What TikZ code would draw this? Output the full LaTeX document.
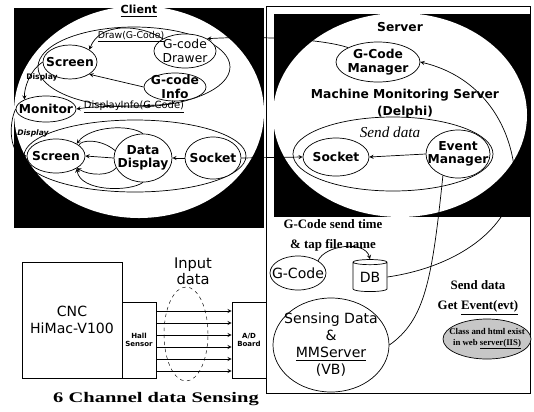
\documentclass[tikz,border=0pt]{standalone}
\usepackage{fontspec}
\setmainfont{DejaVu Sans}
\newfontfamily\tnr{Liberation Serif}
\newfontfamily\tnrwide{Liberation Serif}[FakeStretch=1.4]
\usetikzlibrary{shapes.geometric,arrows}

\begin{document}
\begin{tikzpicture}[x=0.03cm,y=-0.03cm]

% Define block styles
\tikzstyle{blob} = [ellipse,draw=black,fill=white,line width=0.6pt,inner sep=-10pt,align=center]
\tikzstyle{grp} = [ellipse,draw=black,line width=0.6pt]
\tikzstyle{box} = [rectangle,draw=black,fill=white,line width=0.6pt,inner sep=0pt,align=center]
\tikzstyle{arrow} = [line width=0.6pt,->,>=stealth]
\tikzstyle{wire} = [line width=0.6pt]
\tikzstyle{bold} = [font=\fontsize{10.5}{11.5}\selectfont\bfseries,align=center]
\tikzstyle{plain} = [font=\fontsize{10.5}{11.5}\selectfont,align=center]
\tikzstyle{tag} = [font=\fontsize{8}{9}\selectfont,inner sep=1pt]
\tikzstyle{serif} = [font=\tnr\fontsize{11}{17}\selectfont\bfseries,align=center]

\useasboundingbox (0,0) rectangle (534,411);

% Client panel
\fill[black] (14,8) rectangle (264,228);
\node (client) at (139,112) [ellipse,fill=white,minimum width=7.5cm,minimum height=6.36cm] {};
\node (clienttitle) at (139,11) [font=\fontsize{9.5}{10}\selectfont\bfseries] {\underline{Client}};

\node (topgrp) at (134,67) [grp,minimum width=5.76cm,minimum height=2.4cm] {};
\node (botgrp) at (135,156) [grp,minimum width=6.66cm,minimum height=2.16cm] {};

\node (scrtop) at (70,62) [blob,bold,minimum width=1.62cm,minimum height=1.02cm] {Screen};
\node (drawer) at (185,51) [blob,plain,minimum width=1.86cm,minimum height=1.02cm] {G-code\\Drawer};
\node (info) at (175,87) [blob,bold,minimum width=1.86cm,minimum height=0.84cm] {G-code\\Info};
\node (monitor) at (46,109) [blob,bold,minimum width=1.8cm,minimum height=0.78cm] {Monitor};
\node (scrbot) at (56,156) [blob,bold,minimum width=1.74cm,minimum height=1.02cm] {Screen};
\node (datadisp) at (143,158) [blob,bold,minimum width=1.74cm,minimum height=1.44cm] {Data\\Display};
\node (csock) at (213,158) [blob,bold,minimum width=1.68cm,minimum height=1.26cm] {Socket};

\node (drawlbl) at (131,37) [tag] {\underline{Draw(G-Code)}};
\node (showtop) at (42,77) [tag,font=\fontsize{6.5}{7}\selectfont\bfseries] {Display};
\node (infolbl) at (134,107) [tag,font=\fontsize{8.5}{9}\selectfont] {\underline{DisplayInfo(G-Code)}};
\node (showbot) at (33,133) [tag,font=\fontsize{6.5}{7}\selectfont\bfseries\itshape] {Display};

% Client arrows
\draw [arrow] (drawer.north west) .. controls (140,24) and (100,22) .. (scrtop.north east);
\draw [arrow] (info.west) -- (scrtop.south east);
\draw [arrow] (scrtop.west) .. controls (30,70) and (24,88) .. (monitor.north west);
\draw [arrow] (info.south) .. controls (170,108) and (110,104) .. (monitor.east);
\draw [arrow] (monitor.west) .. controls (8,125) and (10,155) .. (scrbot.west);
\draw [arrow] (csock.west) -- (datadisp.east);
\draw [arrow] (datadisp.west) -- (scrbot.east);
\draw [arrow] (datadisp.north) .. controls (130,124) and (90,126) .. (scrbot.north east);
\draw [wire] (scrbot.25) .. controls (80,140) and (100,138) .. (datadisp.165);
\draw [arrow] (datadisp.200) .. controls (110,176) and (90,176) .. (scrbot.-30);
\draw [arrow] (datadisp.south) .. controls (130,192) and (80,192) .. (scrbot.south east);

% Server panel
\draw [wire] (266,6) rectangle (530,393);
\fill[black] (274,14) rectangle (530,217);
\node (server) at (400,115) [ellipse,fill=white,minimum width=7.62cm,minimum height=6.12cm] {};
\node (servertitle) at (400,27) [bold] {Server};

\node (gcm) at (378,62) [blob,bold,minimum width=2.52cm,minimum height=1.2cm] {G-Code\\Manager};
\node (mms) at (405,104) [bold,font=\fontsize{10.5}{14.5}\selectfont\bfseries] {Machine Monitoring Server\\(Delphi)};
\node (sendloop) at (393,154) [grp,minimum width=6cm,minimum height=2.22cm] {};
\node (senddata) at (390,132) [font=\tnr\fontsize{13}{14}\selectfont\itshape] {Send data};
\node (srvsock) at (336,157) [blob,bold,minimum width=1.98cm,minimum height=1.14cm] {Socket};
\node (evtmgr) at (458,154) [blob,bold,minimum width=1.92cm,minimum height=1.44cm] {Event\\Manager};

\draw [arrow] (evtmgr.west) -- (srvsock.east);
\draw [arrow] (csock.east) -- (srvsock.west);
\draw [arrow] (gcm.north west) .. controls (320,38) and (250,36) .. (drawer.north east);

% Files and sensing
\node (sendtime) at (333,235) [serif] {G-Code send time\\\& tap file name};
\node (gcodefile) at (298,273) [blob,font=\fontsize{12}{13}\selectfont,minimum width=1.68cm,minimum height=1.02cm] {G-Code};
\node (db) at (370,277) [cylinder,shape border rotate=90,aspect=0.25,draw,fill=white,line width=0.6pt,inner sep=0pt,minimum width=1.02cm,minimum height=0.96cm,font=\fontsize{12}{13}\selectfont] {DB};
\node (evtlbl) at (478,298) [serif] {Send data\\Get \underline{Event(evt)}};
\node (web) at (487,339) [blob,fill=black!22,font=\tnr\fontsize{7.5}{9}\selectfont\bfseries,minimum width=2.64cm,minimum height=1.2cm] {Class and html exist\\in web \underline{server(IIS)}};
\node (sensing) at (331,345) [blob,font=\fontsize{12}{14.5}\selectfont,minimum width=3.48cm,minimum height=2.82cm] {Sensing Data\\\&\\\underline{MMServer}\\(VB)};

\draw [arrow] (gcodefile.north east) .. controls (325,245) and (365,240) .. (db.north);
\draw [arrow] (db.east) .. controls (470,265) and (525,215) .. (513,160) .. controls (505,115) and (475,75) .. (gcm.east);
\draw [wire] (evtmgr.-125) .. controls (432,280) and (425,320) .. (sensing.east);

% Machine side
\node (cnc) at (72,320) [box,minimum width=3cm,minimum height=3.48cm,font=\fontsize{12}{14}\selectfont] {CNC\\HiMac-V100};
\node (hall) at (139,340) [box,minimum width=1.02cm,minimum height=2.28cm,font=\fontsize{6}{7}\selectfont\bfseries] {Hall\\Sensor};
\node (adboard) at (249,340) [box,minimum width=1.02cm,minimum height=2.28cm,font=\fontsize{6}{7}\selectfont\bfseries] {A/D\\Board};
\node (inputdata) at (186,334) [ellipse,draw,dashed,minimum width=1.32cm,minimum height=2.82cm] {};
\node (inputlbl) at (193,271) [font=\fontsize{12.5}{14}\selectfont,align=center] {Input\\data};

\foreach \d in {0.87,0.51,0.15,-0.21,-0.57,-0.93}
  \draw [arrow] ([yshift=\d cm]hall.east) -- ([yshift=\d cm]adboard.west);

\node (channel) at (156,399) [font=\tnrwide\fontsize{12.5}{14}\selectfont\bfseries] {6 Channel data Sensing};

\end{tikzpicture}
\end{document}
